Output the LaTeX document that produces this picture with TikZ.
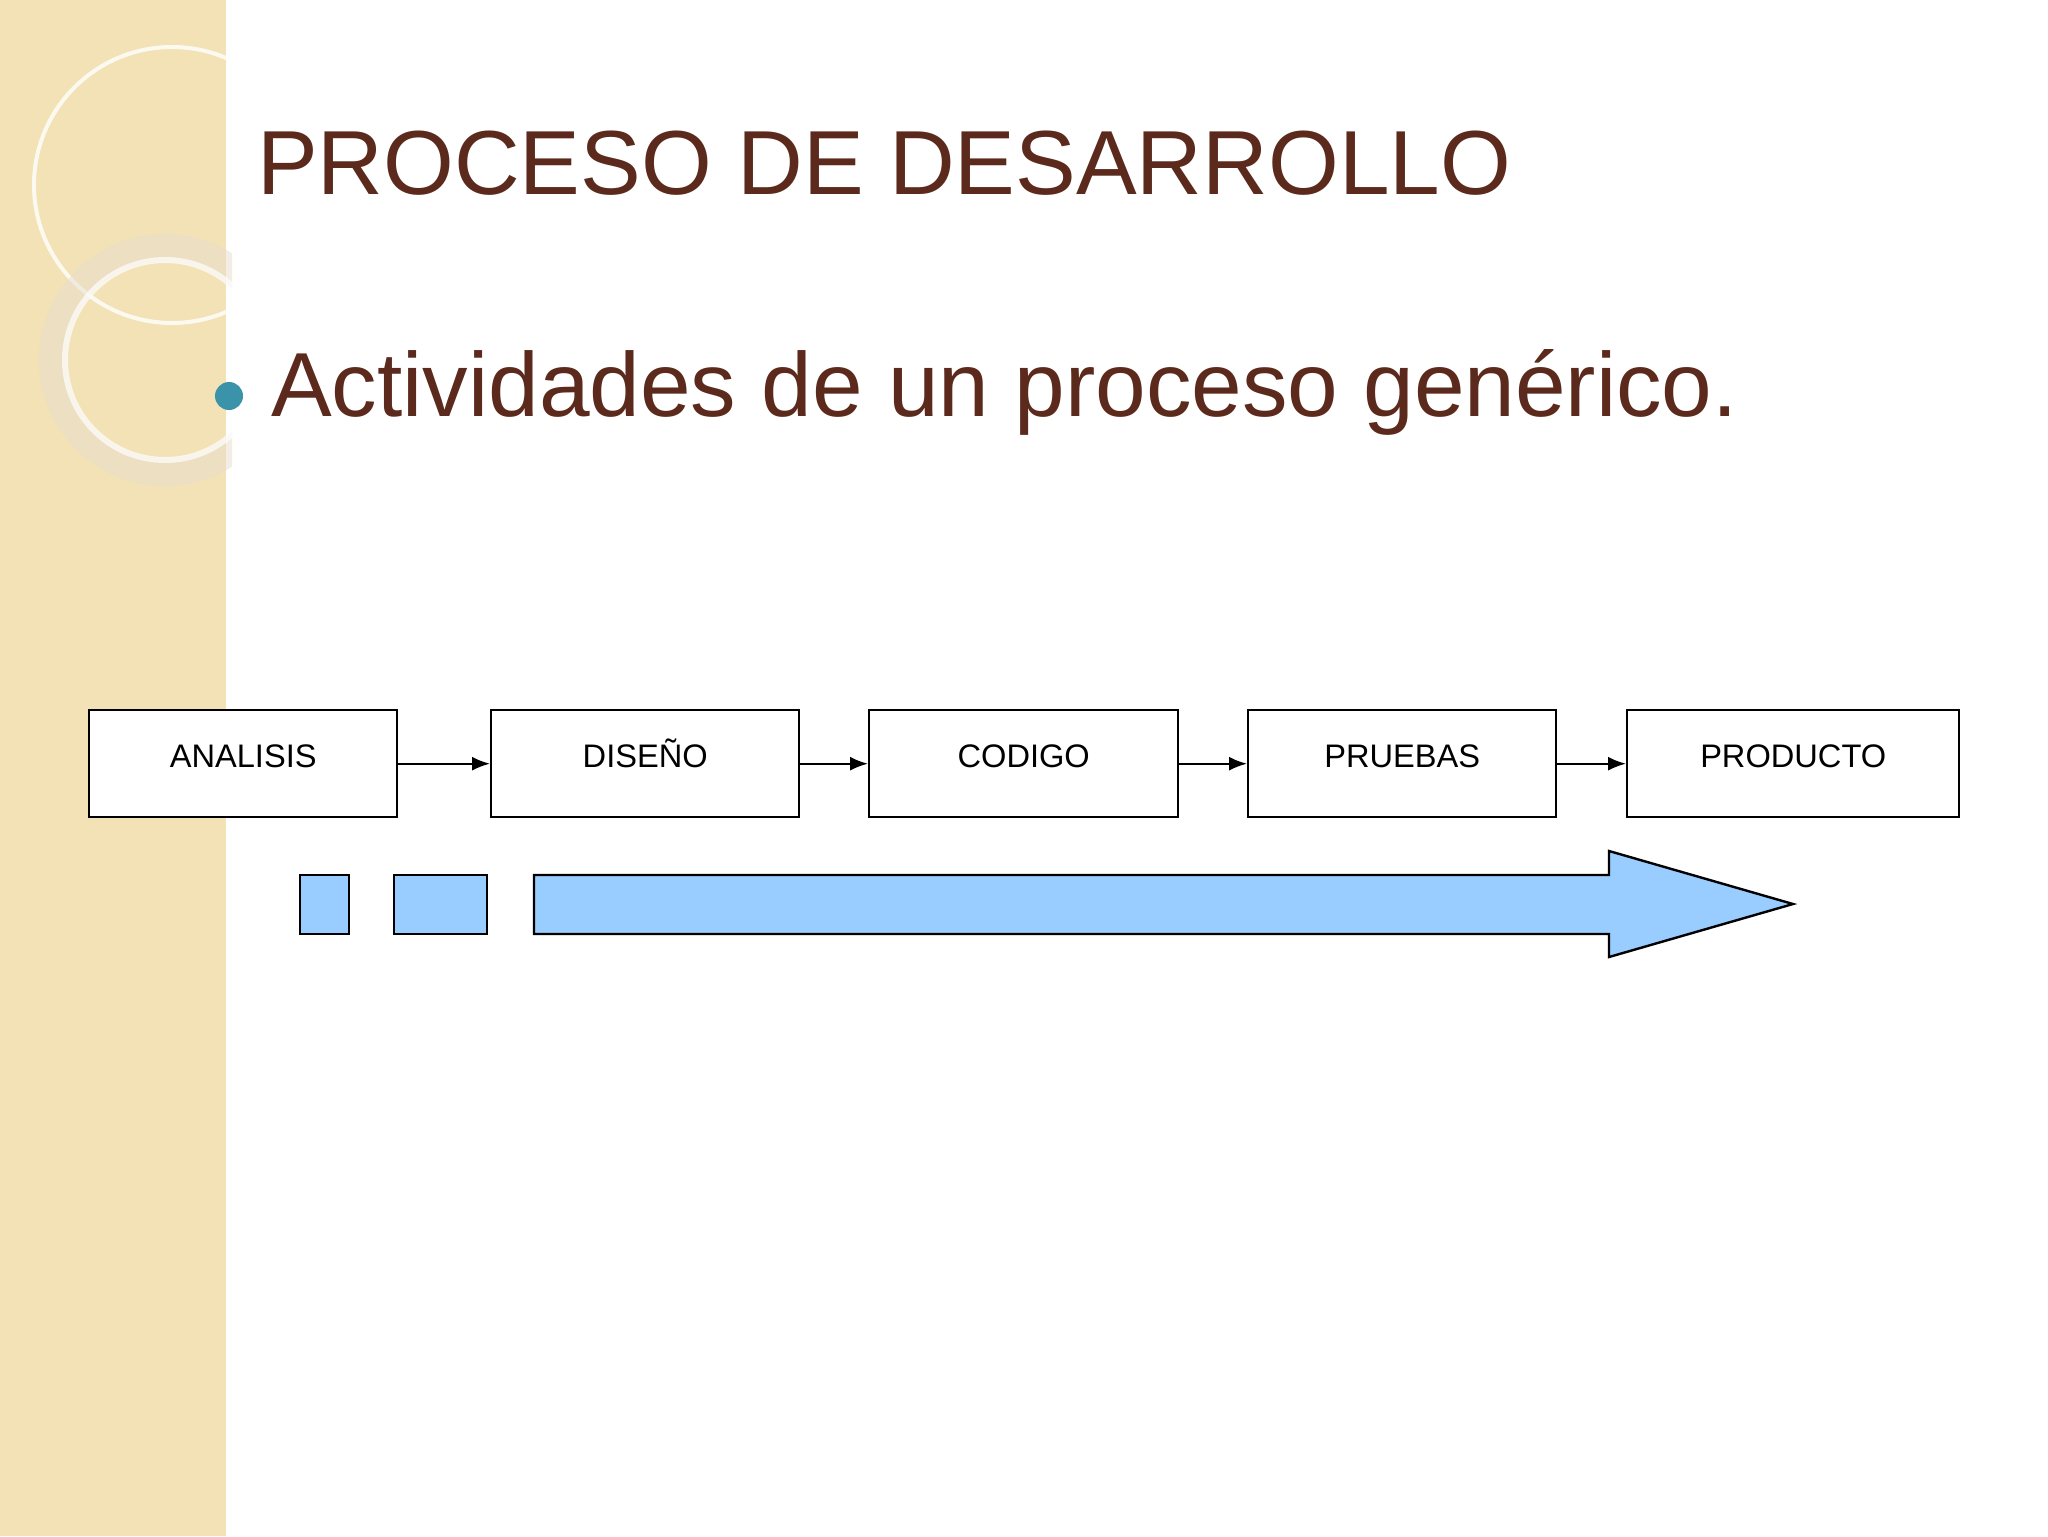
\documentclass[tikz,border=0pt]{standalone}
\usepackage{fontspec}
\setmainfont{Liberation Sans}
\usetikzlibrary{arrows.meta}
\definecolor{band}{HTML}{F2E2B6}
\definecolor{brown}{HTML}{5B2A1C}
\definecolor{teal}{HTML}{3A93A8}
\definecolor{lblue}{HTML}{99CCFF}
\begin{document}
\begin{tikzpicture}[x=0.5pt,y=-0.5pt,
  stepbox/.style={draw,fill=white,line width=1.2pt,minimum width=#1*0.5pt,minimum height=53.5pt,anchor=north west,inner sep=0pt},
  lbl/.style={font=\fontsize{16.3}{18}\selectfont,anchor=base},
  conn/.style={-{Latex[length=9pt,width=7pt]},line width=1pt}]
\useasboundingbox (0,0) rectangle (2048,1536);
\fill[white] (0,0) rectangle (2048,1536);
\fill[band] (0,0) rectangle (226,1536);
\begin{scope}
\clip (0,0) rectangle (232,1536);
\draw[white,line width=2pt,opacity=0.8] (172,185) circle (138);
\draw[band!70!brown!40,line width=14pt,opacity=0.5] (165,360) circle (112);
\draw[white,line width=3pt,opacity=0.7] (165,360) circle (100);
\end{scope}
\node[anchor=west,text=brown,font=\fontsize{45.5}{52}\selectfont] (title) at (250,163) {PROCESO DE DESARROLLO};
\fill[teal] (229,396) circle (14) coordinate (bul);
\node[anchor=west,text=brown,font=\fontsize{45.5}{52}\selectfont] (sub) at (264,392) {Actividades de un proceso genérico.};
\node[stepbox=308] (a) at (88,709) {};
\node[stepbox=308] (d) at (490,709) {};
\node[stepbox=309] (c) at (868,709) {};
\node[stepbox=308] (p) at (1247,709) {};
\node[stepbox=332] (r) at (1626,709) {};
\foreach \n/\t in {a/ANALISIS,d/DISEÑO,c/CODIGO,p/PRUEBAS,r/PRODUCTO}
  \node[lbl] at ([yshift=-29pt]\n.north) {\t};
\draw[conn] (a.east) -- (d.west);
\draw[conn] (d.east) -- (c.west);
\draw[conn] (c.east) -- (p.west);
\draw[conn] (p.east) -- (r.west);
\draw[fill=lblue,line width=1.2pt] (300,875) rectangle (349,934);
\draw[fill=lblue,line width=1.2pt] (394,875) rectangle (487,934);
\draw[fill=lblue,line width=1.2pt] (534,875) -- (1609,875) -- (1609,851) -- (1793,904) -- (1609,957) -- (1609,934) -- (534,934) -- cycle;
\end{tikzpicture}
\end{document}
